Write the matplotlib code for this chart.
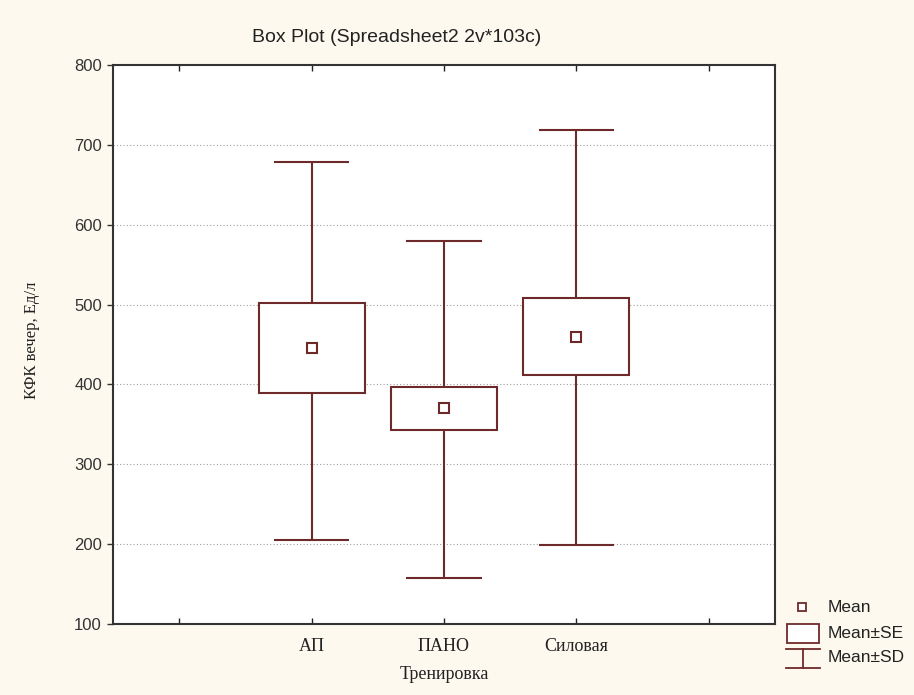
import matplotlib
matplotlib.use("Agg")
import matplotlib.pyplot as plt
from matplotlib.patches import Rectangle

# === данные ===
cats = ['АП', 'ПАНО', 'Силовая']
means = [445, 370, 460]
se_lo = [389, 343, 412]
se_hi = [502, 397, 508]
sd_lo = [205, 158, 199]
sd_hi = [679, 580, 718]

line_col = '#6e2a2a'
bg_col = '#fdf9ee'
W, H = 914, 695

fig = plt.figure(figsize=(W / 100, H / 100), dpi=100, facecolor=bg_col)
ax = fig.add_axes([113 / W, 1 - 624 / H, (775 - 113) / W, (624 - 65) / H])
ax.set_facecolor('white')

xs = [1, 2, 3]
box_w = 0.8
cap_w = 0.57

# усы (Mean±SD)
ax.vlines(xs, sd_lo, sd_hi, color=line_col, lw=1.5, zorder=2)
ax.hlines(sd_lo, [x - cap_w / 2 for x in xs], [x + cap_w / 2 for x in xs], color=line_col, lw=1.5, zorder=2)
ax.hlines(sd_hi, [x - cap_w / 2 for x in xs], [x + cap_w / 2 for x in xs], color=line_col, lw=1.5, zorder=2)

# ящики (Mean±SE)
ax.bar(xs, [h - l for h, l in zip(se_hi, se_lo)], bottom=se_lo, width=box_w,
       facecolor='white', edgecolor=line_col, linewidth=1.5, zorder=3)

# среднее
ax.plot(xs, means, 's', ms=6.5, mfc='white', mec=line_col, mew=1.5, zorder=4, linestyle='none')

ax.set_xlim(-0.5, 4.5)
ax.set_ylim(100, 800)
ax.set_yticks(range(100, 801, 100))
ax.set_xticks(range(0, 5))
ax.set_xticklabels([''] + cats + [''], family='Liberation Serif', fontsize=13)
for lbl in ax.get_yticklabels():
    lbl.set_family('Liberation Sans')
    lbl.set_fontsize(12)

ax.tick_params(axis='y', direction='out', length=4, width=1, colors='#333333', pad=4)
ax.tick_params(axis='x', direction='in', length=4, width=1, top=True, pad=10, colors='#222222')

for sp in ax.spines.values():
    sp.set_color('#333333')
    sp.set_linewidth(1.5)

for yv in range(200, 800, 100):
    ax.axhline(yv, color='#a0a0a0', lw=0.8, ls=(0, (1, 2)), zorder=1)

ax.set_xlabel('Тренировка', family='Liberation Serif', fontsize=13, labelpad=8, color='#222222')
ax.set_ylabel('КФК вечер, Ед/л', family='Liberation Serif', fontsize=12, color='#222222')
ax.yaxis.set_label_coords((40 - 113) / (775 - 113), (624 - 340) / (624 - 65))

fig.text(397 / W, 1 - 38 / H, 'Box Plot (Spreadsheet2 2v*103c)', ha='center', va='center',
         family='Liberation Sans', fontsize=14, color='#222222')

# === легенда ===
lg = fig.add_axes([0, 0, 1, 1], facecolor='none')
lg.set_xlim(0, W)
lg.set_ylim(H, 0)
lg.axis('off')
lg.plot([802], [607], 's', ms=6, mfc='white', mec=line_col, mew=1.3)
lg.add_patch(Rectangle((787, 624), 32, 19, facecolor='white', edgecolor=line_col, lw=1.3))
lg.plot([786, 820], [649, 649], color=line_col, lw=1.3)
lg.plot([786, 820], [668, 668], color=line_col, lw=1.3)
lg.plot([803, 803], [649, 668], color=line_col, lw=1.3)
for ty, txt in zip([607, 633, 657], ['Mean', 'Mean±SE', 'Mean±SD']):
    lg.text(828, ty, txt, ha='left', va='center', family='Liberation Sans', fontsize=12.5, color='#222222')

fig.savefig('out.png', dpi=100, facecolor=bg_col)
